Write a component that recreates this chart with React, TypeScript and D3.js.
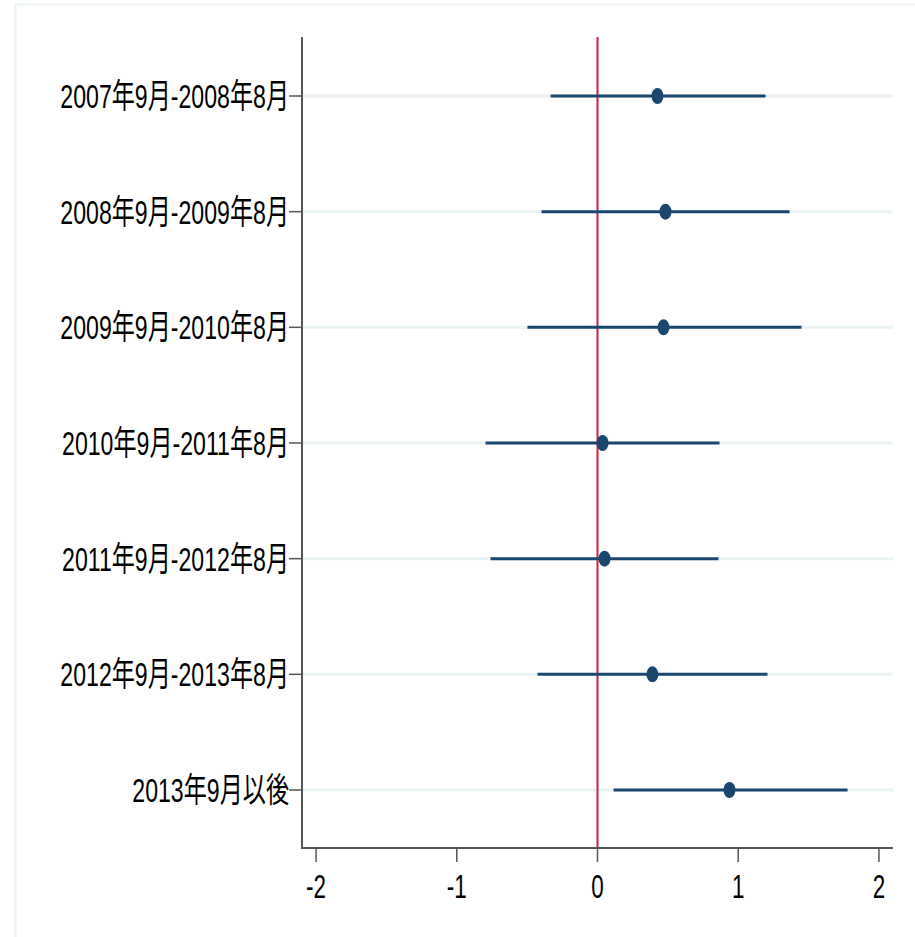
import { useRef, useEffect } from "react";
import * as d3 from "d3";

const periods = [
  "2007年9月-2008年8月",
  "2008年9月-2009年8月",
  "2009年9月-2010年8月",
  "2010年9月-2011年8月",
  "2011年9月-2012年8月",
  "2012年9月-2013年8月",
  "2013年9月以後",
];
const estimates = [0.426, 0.483, 0.469, 0.036, 0.05, 0.39, 0.938];
const lowerCI = [-0.334, -0.398, -0.498, -0.796, -0.76, -0.426, 0.114];
const upperCI = [1.194, 1.365, 1.45, 0.867, 0.86, 1.208, 1.777];
const xTicks = [-2, -1, 0, 1, 2];

const W = 915;
const H = 937;
const FONT = "'Liberation Sans', 'Noto Sans CJK JP', sans-serif";
const SQUEEZE = 0.68;

const App = () => {
  const svgRef = useRef<SVGSVGElement | null>(null);

  useEffect(() => {
    document.body.style.margin = "0";
    if (!svgRef.current) return;
    const svg = d3.select(svgRef.current);
    svg.selectAll("*").remove();

    const left = 302, right = 893, top = 37, bottom = 848;

    const x = d3.scaleLinear().domain([-2.1, 2.1]).range([left, right]);
    // rows evenly spaced, first at 96, last at 790
    const y = d3.scalePoint<string>().domain(periods).range([96, 790]);

    // outer frame
    svg.append("rect")
      .attr("x", 15.5).attr("y", 4.5)
      .attr("width", W + 20).attr("height", H + 20)
      .attr("fill", "#fff")
      .attr("stroke", "#eaf2f3")
      .attr("stroke-width", 2);

    // gridlines
    svg.append("g").selectAll("line")
      .data(periods)
      .join("line")
      .attr("x1", left).attr("x2", right)
      .attr("y1", d => y(d)!).attr("y2", d => y(d)!)
      .attr("stroke", "#eaf2f3")
      .attr("stroke-width", 3);

    // reference line at 0
    svg.append("line")
      .attr("x1", x(0)).attr("x2", x(0))
      .attr("y1", top).attr("y2", bottom)
      .attr("stroke", "#d01c46")
      .attr("stroke-width", 2);

    // confidence intervals
    svg.append("g").selectAll("line")
      .data(periods)
      .join("line")
      .attr("x1", (_, i) => x(lowerCI[i]))
      .attr("x2", (_, i) => x(upperCI[i]))
      .attr("y1", d => y(d)!).attr("y2", d => y(d)!)
      .attr("stroke", "#1a476f")
      .attr("stroke-width", 3);

    // point estimates
    svg.append("g").selectAll("ellipse")
      .data(periods)
      .join("ellipse")
      .attr("cx", (_, i) => x(estimates[i]))
      .attr("cy", d => y(d)!)
      .attr("rx", 6)
      .attr("ry", 8)
      .attr("fill", "#1a476f");

    // y axis
    svg.append("line")
      .attr("x1", left).attr("x2", left)
      .attr("y1", top).attr("y2", bottom + 1)
      .attr("stroke", "#555").attr("stroke-width", 2);

    const yTicks = svg.append("g");
    yTicks.selectAll("line")
      .data(periods)
      .join("line")
      .attr("x1", left - 13).attr("x2", left)
      .attr("y1", d => y(d)!).attr("y2", d => y(d)!)
      .attr("stroke", "#555").attr("stroke-width", 1.5);
    yTicks.selectAll("text")
      .data(periods)
      .join("text")
      .attr("transform", d => `translate(${left - 13},${y(d)! + 12}) scale(${SQUEEZE},1)`)
      .attr("text-anchor", "end")
      .attr("font-family", FONT)
      .attr("font-size", 34)
      .attr("fill", "#000")
      .text(d => d);

    // x axis
    svg.append("line")
      .attr("x1", left - 1).attr("x2", right)
      .attr("y1", bottom).attr("y2", bottom)
      .attr("stroke", "#555").attr("stroke-width", 2);

    const xAxis = svg.append("g");
    xAxis.selectAll("line")
      .data(xTicks)
      .join("line")
      .attr("x1", d => x(d)).attr("x2", d => x(d))
      .attr("y1", bottom).attr("y2", bottom + 14)
      .attr("stroke", "#555").attr("stroke-width", 1.5);
    xAxis.selectAll("text")
      .data(xTicks)
      .join("text")
      .attr("transform", d => `translate(${x(d)},898) scale(${SQUEEZE},1)`)
      .attr("text-anchor", "middle")
      .attr("font-family", FONT)
      .attr("font-size", 33)
      .attr("fill", "#000")
      .text(d => d);
  }, []);

  return (
    <svg ref={svgRef} width={W} height={H} viewBox={`0 0 ${W} ${H}`} style={{ display: "block" }} />
  );
};

export default App;
